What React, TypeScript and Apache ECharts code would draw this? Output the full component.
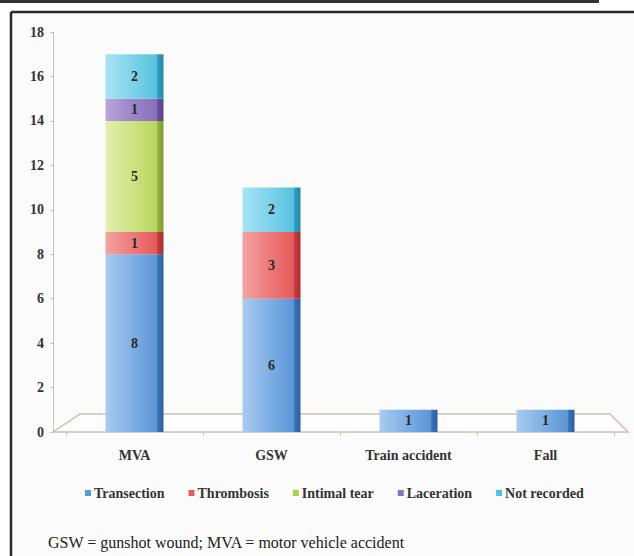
import React, { useEffect, useRef } from "react";
import * as echarts from "echarts";

const categories = ["MVA", "GSW", "Train accident", "Fall"];
const transection = [8, 6, 1, 1];
const thrombosis = [1, 3, 0, 0];
const intimalTear = [5, 0, 0, 0];
const laceration = [1, 0, 0, 0];
const notRecorded = [2, 2, 0, 0];
const seriesNames = ["Transection", "Thrombosis", "Intimal tear", "Laceration", "Not recorded"];
const yTicks = [0, 2, 4, 6, 8, 10, 12, 14, 16, 18];
const footnote = "GSW = gunshot wound; MVA = motor vehicle accident";

const palettes = [
  ["#a9cbef", "#7fb0e6", "#5d95d6", "#3a73b8", "#2e5f9e", "#5b9bd5"],
  ["#f3a3a3", "#ee7b7b", "#e45a5a", "#c23b3b", "#a83030", "#e85a5a"],
  ["#e3efb0", "#cfe384", "#b9d561", "#93b23e", "#7f9c33", "#a9d04f"],
  ["#b7a5da", "#9d86c8", "#8a70bd", "#6a4f9c", "#5a4288", "#8a70bd"],
  ["#a8e3f2", "#7fd3ea", "#57c2df", "#2e9fc0", "#2588a6", "#4fc1e0"],
];

const serif = "'Liberation Serif', 'DejaVu Serif', serif";

export default function App() {
  const ref = useRef<HTMLDivElement>(null);
  useEffect(() => {
    if (!ref.current) return;
    const chart = echarts.init(ref.current, null, { renderer: "svg" });
    const values = [transection, thrombosis, intimalTear, laceration, notRecorded];
    const series = values.map((vals, i) => {
      const p = palettes[i];
      return {
        name: seriesNames[i],
        type: "bar",
        stack: "total",
        barWidth: 58,
        data: vals,
        itemStyle: {
          color: new echarts.graphic.LinearGradient(0, 0, 1, 0, [
            { offset: 0, color: p[0] },
            { offset: 0.45, color: p[1] },
            { offset: 0.88, color: p[2] },
            { offset: 0.9, color: p[3] },
            { offset: 1, color: p[4] },
          ]),
        },
        label: {
          show: true,
          position: "inside",
          fontFamily: serif,
          fontWeight: "bold",
          fontSize: 14,
          color: "#2a2a2a",
          formatter: (d: any) => (d.value ? String(d.value) : ""),
        },
      };
    });
    chart.setOption({
      animation: false,
      backgroundColor: "#fbfbfb",
      grid: { left: 66, right: 20, top: 32, bottom: 124 },
      xAxis: {
        type: "category",
        data: categories,
        axisLine: { show: false },
        axisTick: { show: true, length: 4, lineStyle: { color: "#c8c0bc" } },
        axisLabel: {
          fontFamily: serif,
          fontWeight: "bold",
          fontSize: 14,
          color: "#333",
          margin: 16,
        },
      },
      yAxis: {
        type: "value",
        min: 0,
        max: 18,
        interval: 2,
        offset: 13,
        axisLine: { show: true, lineStyle: { color: "#cdbdb6" } },
        axisTick: { show: true, length: 3, lineStyle: { color: "#cdbdb6" } },
        splitLine: { show: false },
        axisLabel: {
          fontFamily: serif,
          fontWeight: "bold",
          fontSize: 14,
          color: "#333",
          margin: 9,
          formatter: (v: number) => (yTicks.includes(v) ? String(v) : ""),
        },
      },
      legend: {
        left: 80,
        top: 481,
        itemWidth: 6,
        itemHeight: 6,
        itemGap: 24,
        icon: "rect",
        textStyle: { fontFamily: serif, fontWeight: "bold", fontSize: 14, color: "#333", padding: [0, 0, 0, -2] },
        data: seriesNames.map((n, i) => ({ name: n, itemStyle: { color: palettes[i][5] } })),
      },
      graphic: [
        { type: "rect", z: -10, silent: true, shape: { x: 0, y: 0, width: 634, height: 11 }, style: { fill: "#ffffff" } },
        { type: "rect", z: -10, silent: true, shape: { x: 0, y: 0, width: 10, height: 556 }, style: { fill: "#ffffff" } },
        { type: "rect", z: -9, silent: true, shape: { x: 0, y: 0, width: 599, height: 3 }, style: { fill: "#333333" } },
        { type: "line", z: -9, silent: true, shape: { x1: 11, y1: 12, x2: 634, y2: 12 }, style: { stroke: "#2a2a2a", lineWidth: 2.5 } },
        { type: "line", z: -9, silent: true, shape: { x1: 11, y1: 12, x2: 11, y2: 556 }, style: { stroke: "#2a2a2a", lineWidth: 2.5 } },
        {
          type: "polygon",
          z: -5,
          silent: true,
          shape: { points: [[53, 432], [80, 414], [610, 414], [628, 432]] },
          style: { fill: "#fdfdfd", stroke: "#d4bcb4", lineWidth: 1.5 },
        },
        {
          type: "text",
          silent: true,
          x: 48,
          y: 534,
          style: { text: footnote, fontFamily: serif, fontSize: 16, fill: "#222" },
        },
      ],
      series,
    });
    return () => chart.dispose();
  }, []);
  return <div ref={ref} style={{ position: "absolute", left: 0, top: 0, width: 634, height: 556 }} />;
}
